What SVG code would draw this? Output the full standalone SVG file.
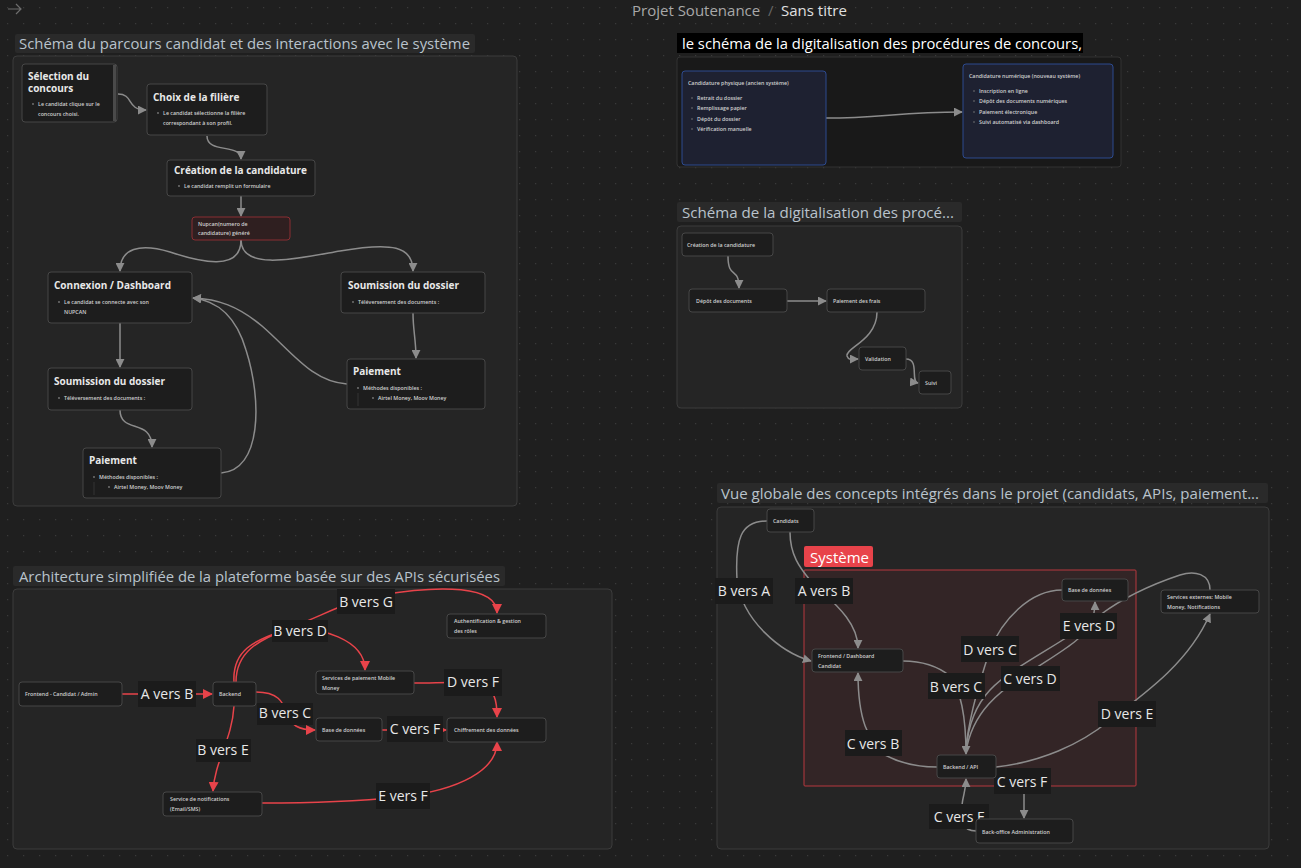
<svg xmlns="http://www.w3.org/2000/svg" width="1301" height="868" viewBox="0 0 1301 868">
<defs>
<pattern id="dots" x="0" y="0" width="16" height="16" patternUnits="userSpaceOnUse">
<rect x="7" y="7" width="1.2" height="1.2" fill="#3a3a3a"/>
</pattern>
<marker id="ag" viewBox="0 0 10 10" refX="9" refY="5" markerWidth="9" markerHeight="9" markerUnits="userSpaceOnUse" orient="auto">
<path d="M0,0 L10,5 L0,10 z" fill="#8c8c8c"/>
</marker>
<marker id="ar" viewBox="0 0 10 10" refX="9" refY="5" markerWidth="10" markerHeight="10" markerUnits="userSpaceOnUse" orient="auto">
<path d="M0,0 L10,5 L0,10 z" fill="#e8434a"/>
</marker>
<style>
text{font-family:"Open Sans","Noto Sans","Liberation Sans",sans-serif}
.frame{fill:#252525;stroke:#3c3c3c;stroke-width:1}
.frameDark{fill:#191919;stroke:#333;stroke-width:1}
.ftitle-bg{fill:#2a2a2a}
.ftitle{fill:#b9c3cc;font-size:15px}
.node{fill:#1d1d1d;stroke:#474747;stroke-width:1}
.nodeB{fill:#1e2131;stroke:#2c4a8f;stroke-width:1}
.ntitle{fill:#e8e8e8;font-size:10px;font-weight:700}
.nsmall{fill:#d0d0d0;font-size:5.3px;font-weight:600}
.bul{fill:#7a7a7a}
.eg{fill:none;stroke:#8c8c8c;stroke-width:1.5}
.er{fill:none;stroke:#e8434a;stroke-width:1.5}
.lbg{fill:#1b1b1b}
.ltx{fill:#e8e8e8;font-size:14px;text-anchor:middle}
</style>
</defs>
<rect width="1301" height="868" fill="#1f1f1f"/>
<rect width="1301" height="868" fill="url(#dots)"/>

<g id="header">
<path d="M8,9 L21,9 M16,4 L21,9 L16,14" fill="none" stroke="#6e6e6e" stroke-width="1.2"/>
<text x="632" y="16" fill="#a8a8a8" font-size="15">Projet Soutenance</text>
<text x="768" y="16" fill="#666" font-size="15">/</text>
<text x="781" y="16" fill="#e0e0e0" font-size="15">Sans titre</text>
</g>

<!-- Frames -->
<g id="frame1">
<rect class="ftitle-bg" x="15" y="34" width="460" height="19" rx="2"/>
<text class="ftitle" x="19" y="49" textLength="451" lengthAdjust="spacingAndGlyphs">Schéma du parcours candidat et des interactions avec le système</text>
<rect class="frame" x="13" y="56" width="504" height="450" rx="4"/>
</g>
<g id="frame2">
<rect x="677" y="33" width="406" height="20" fill="#000"/>
<text x="682" y="49" fill="#fff" font-size="15" textLength="400" lengthAdjust="spacingAndGlyphs">le schéma de la digitalisation des procédures de concours,</text>
<rect class="frameDark" x="677" y="57" width="444" height="110" rx="3"/>
</g>
<g id="frame3">
<rect class="ftitle-bg" x="677" y="202" width="285" height="20" rx="2"/>
<text class="ftitle" x="682" y="218" textLength="272" lengthAdjust="spacingAndGlyphs">Schéma de la digitalisation des procé...</text>
<rect class="frame" x="677" y="226" width="285" height="182" rx="4"/>
</g>
<g id="frame4">
<rect class="ftitle-bg" x="13" y="566" width="492" height="20" rx="2"/>
<text class="ftitle" x="19" y="582" textLength="481" lengthAdjust="spacingAndGlyphs">Architecture simplifiée de la plateforme basée sur des APIs sécurisées</text>
<rect class="frame" x="13" y="589" width="599" height="260" rx="4"/>
</g>
<g id="frame5">
<rect class="ftitle-bg" x="717" y="483" width="551" height="20" rx="2"/>
<text class="ftitle" x="721" y="499" textLength="538" lengthAdjust="spacingAndGlyphs">Vue globale des concepts intégrés dans le projet (candidats, APIs, paiement...</text>
<rect class="frame" x="717" y="507" width="552" height="342" rx="4"/>
</g>
<g id="systeme">
<rect x="804" y="570" width="332" height="216" fill="#332526" stroke="#b8393f" stroke-width="1" rx="1"/>
<rect x="804" y="546" width="69" height="21" rx="2" fill="#e8434a"/>
<text x="810" y="563" fill="#fff" font-size="15">Système</text>
</g>

<!-- Connectors -->
<g id="connectors">
<!-- frame 1 -->
<path class="eg" d="M118,94 C134,94 126,110 146,110" marker-end="url(#ag)"/>
<path class="eg" d="M207,136 C207,154 241,143 241,159" marker-end="url(#ag)"/>
<path class="eg" d="M241,196 L241,216" marker-end="url(#ag)"/>
<path class="eg" d="M241,240 C241,272 200,262 170,252 C140,243 120,248 120,271" marker-end="url(#ag)"/>
<path class="eg" d="M241,240 C241,272 300,258 340,251 C392,242 413,246 413,271" marker-end="url(#ag)"/>
<path class="eg" d="M120,323 L120,367" marker-end="url(#ag)"/>
<path class="eg" d="M120,410 C120,434 152,418 152,447" marker-end="url(#ag)"/>
<path class="eg" d="M413,313 C413,330 416,340 416,358" marker-end="url(#ag)"/>
<path class="eg" d="M221,473 C262,470 262,400 246,350 C236,316 218,301 193,298" marker-end="url(#ag)"/>
<path class="eg" d="M347,384 C312,382 292,352 262,326 C238,306 218,299 193,298" marker-end="url(#ag)"/>
<!-- frame 2 -->
<path class="eg" d="M826,118 C880,118 900,112 962,112" marker-end="url(#ag)"/>
<!-- frame 3 -->
<path class="eg" d="M728,256 C728,280 739,266 739,288" marker-end="url(#ag)"/>
<path class="eg" d="M787,301 L826,301" marker-end="url(#ag)"/>
<path class="eg" d="M877,312 C877,340 845,348 847,356 C849,361 852,359 858,359" marker-end="url(#ag)"/>
<path class="eg" d="M906,359 C920,359 910,382 918,383" marker-end="url(#ag)"/>
<!-- frame 4 (red) -->
<path class="er" d="M122,694 L212,694" marker-end="url(#ar)"/>
<path class="er" d="M234,682 C232,650 255,640 285,630 C320,625 365,640 365,670" marker-end="url(#ar)"/>
<path class="er" d="M236,682 C236,652 258,640 290,628 C330,612 350,600 380,595 C440,585 497,585 497,613" marker-end="url(#ar)"/>
<path class="er" d="M256,692 C278,692 283,702 286,712 C290,726 300,730 315,730" marker-end="url(#ar)"/>
<path class="er" d="M234,706 C232,740 215,760 213,791" marker-end="url(#ar)"/>
<path class="er" d="M414,683 C440,683 460,681 480,684 C495,690 497,700 497,717" marker-end="url(#ar)"/>
<path class="er" d="M382,730 L446,730" marker-end="url(#ar)"/>
<path class="er" d="M262,803 C320,803 360,801 400,797 C460,790 497,770 497,742" marker-end="url(#ar)"/>
<!-- frame 5 (gray) -->
<path class="eg" d="M767,521 C740,521 735,540 737,580 C742,620 780,652 811,661" marker-end="url(#ag)"/>
<path class="eg" d="M790,532 C790,555 800,568 810,580 C830,600 858,620 858,648" marker-end="url(#ag)"/>
<path class="eg" d="M903,661 C925,661 940,668 950,676 C962,692 966,720 966,754" marker-end="url(#ag)"/>
<path class="eg" d="M1062,590 C1030,590 1002,620 990,650 C980,680 968,720 966,750"/>
<path class="eg" d="M1210,590 C1210,574 1195,570 1180,575 C1150,585 1120,600 1100,615 C1060,645 1010,668 990,690 C975,706 968,726 966,750"/>
<path class="eg" d="M966,752 C972,712 1000,690 1030,672 C1060,652 1082,640 1090,625 C1094,617 1095,612 1095,602" marker-end="url(#ag)"/>
<path class="eg" d="M937,767 C915,767 898,762 885,755 C868,740 858,720 858,673" marker-end="url(#ag)"/>
<path class="eg" d="M996,767 C1040,762 1080,745 1110,720 C1150,690 1190,660 1210,614" marker-end="url(#ag)"/>
<path class="eg" d="M1024,778 L1024,818" marker-end="url(#ag)"/>
<path class="eg" d="M976,831 C962,831 960,820 962,805 C963,795 966,790 966,779" marker-end="url(#ag)"/>
<!-- labels frame 4 -->
<rect class="lbg" x="138" y="681" width="58" height="26"/><text class="ltx" x="167" y="699">A vers B</text>
<rect class="lbg" x="272" y="620" width="56" height="22"/><text class="ltx" x="300" y="636">B vers D</text>
<rect class="lbg" x="337" y="589" width="58" height="25"/><text class="ltx" x="366" y="607">B vers G</text>
<rect class="lbg" x="257" y="703" width="56" height="22"/><text class="ltx" x="285" y="718">B vers C</text>
<rect class="lbg" x="196" y="739" width="55" height="23"/><text class="ltx" x="223" y="755">B vers E</text>
<rect class="lbg" x="444" y="669" width="58" height="27"/><text class="ltx" x="473" y="687">D vers F</text>
<rect class="lbg" x="387" y="716" width="56" height="26"/><text class="ltx" x="415" y="734">C vers F</text>
<rect class="lbg" x="376" y="783" width="54" height="26"/><text class="ltx" x="403" y="801">E vers F</text>
<!-- labels frame 5 -->
<rect class="lbg" x="715" y="578" width="58" height="26"/><text class="ltx" x="744" y="596">B vers A</text>
<rect class="lbg" x="795" y="578" width="58" height="26"/><text class="ltx" x="824" y="596">A vers B</text>
<rect class="lbg" x="928" y="673" width="57" height="26"/><text class="ltx" x="956" y="692">B vers C</text>
<rect class="lbg" x="961" y="636" width="58" height="26"/><text class="ltx" x="990" y="655">D vers C</text>
<rect class="lbg" x="1001" y="666" width="59" height="25"/><text class="ltx" x="1030" y="684">C vers D</text>
<rect class="lbg" x="1060" y="613" width="57" height="26"/><text class="ltx" x="1089" y="631">E vers D</text>
<rect class="lbg" x="845" y="730" width="57" height="26"/><text class="ltx" x="873" y="749">C vers B</text>
<rect class="lbg" x="1098" y="701" width="58" height="26"/><text class="ltx" x="1127" y="719">D vers E</text>
<rect class="lbg" x="994" y="768" width="57" height="26"/><text class="ltx" x="1022" y="787">C vers F</text>
<rect class="lbg" x="929" y="804" width="60" height="25"/><text class="ltx" x="959" y="822">C vers F</text>
</g>

<!-- Frame 1 nodes -->
<g id="n-selection">
<rect class="node" x="22" y="64" width="95" height="58" rx="3"/>
<line x1="114.5" y1="65" x2="114.5" y2="121" stroke="#4a4a4a" stroke-width="3"/>
<text class="ntitle" x="28" y="80">Sélection du</text>
<text class="ntitle" x="28" y="92">concours</text>
<circle class="bul" cx="33" cy="104" r="0.9"/>
<text class="nsmall" x="38" y="106">Le candidat clique sur le</text>
<text class="nsmall" x="38" y="116">concours choisi.</text>
</g>
<g id="n-choix">
<rect class="node" x="147" y="84" width="120" height="51" rx="3"/>
<text class="ntitle" x="153" y="101">Choix de la filière</text>
<circle class="bul" cx="158" cy="113" r="0.9"/>
<text class="nsmall" x="163" y="115">Le candidat sélectionne la filière</text>
<text class="nsmall" x="163" y="125">correspondant à son profil.</text>
</g>
<g id="n-creation">
<rect class="node" x="167" y="160" width="148" height="36" rx="3"/>
<text class="ntitle" x="174" y="174">Création de la candidature</text>
<circle class="bul" cx="179" cy="186" r="0.9"/>
<text class="nsmall" x="184" y="188">Le candidat remplit un formulaire</text>
</g>
<g id="n-nupcan">
<rect x="192" y="217" width="98" height="23" rx="3" fill="#2f1f20" stroke="#8a2e33"/>
<text class="nsmall" x="198" y="226">Nupcan(numero de</text>
<text class="nsmall" x="198" y="235">candidature) généré</text>
</g>
<g id="n-connexion">
<rect class="node" x="48" y="272" width="144" height="51" rx="3"/>
<text class="ntitle" x="54" y="289">Connexion / Dashboard</text>
<circle class="bul" cx="59" cy="302" r="0.9"/>
<text class="nsmall" x="64" y="304">Le candidat se connecte avec son</text>
<text class="nsmall" x="64" y="314">NUPCAN</text>
</g>
<g id="n-soumission-r">
<rect class="node" x="341" y="272" width="144" height="41" rx="3"/>
<text class="ntitle" x="348" y="289">Soumission du dossier</text>
<circle class="bul" cx="353" cy="302" r="0.9"/>
<text class="nsmall" x="358" y="304">Téléversement des documents :</text>
</g>
<g id="n-soumission-l">
<rect class="node" x="48" y="368" width="144" height="42" rx="3"/>
<text class="ntitle" x="54" y="385">Soumission du dossier</text>
<circle class="bul" cx="59" cy="398" r="0.9"/>
<text class="nsmall" x="64" y="400">Téléversement des documents :</text>
</g>
<g id="n-paiement-l">
<rect class="node" x="83" y="448" width="138" height="50" rx="3"/>
<text class="ntitle" x="89" y="464">Paiement</text>
<circle class="bul" cx="94" cy="477" r="0.9"/>
<text class="nsmall" x="99" y="479">Méthodes disponibles :</text>
<line x1="94" y1="482" x2="94" y2="495" stroke="#3a3a3a" stroke-width="0.8"/>
<circle class="bul" cx="109" cy="487" r="0.9"/>
<text class="nsmall" x="114" y="489">Airtel Money, Moov Money</text>
</g>
<g id="n-paiement-r">
<rect class="node" x="347" y="359" width="138" height="50" rx="3"/>
<text class="ntitle" x="353" y="375">Paiement</text>
<circle class="bul" cx="358" cy="388" r="0.9"/>
<text class="nsmall" x="363" y="390">Méthodes disponibles :</text>
<line x1="358" y1="393" x2="358" y2="406" stroke="#3a3a3a" stroke-width="0.8"/>
<circle class="bul" cx="373" cy="398" r="0.9"/>
<text class="nsmall" x="378" y="400">Airtel Money, Moov Money</text>
</g>

<!-- Frame 2 nodes -->
<g id="n-physique">
<rect class="nodeB" x="682" y="71" width="144" height="94" rx="3"/>
<text class="nsmall" x="688" y="85" font-weight="400">Candidature physique (ancien système)</text>
<circle class="bul" cx="692" cy="98" r="0.8"/><text class="nsmall" x="697" y="100">Retrait du dossier</text>
<circle class="bul" cx="692" cy="108" r="0.8"/><text class="nsmall" x="697" y="110">Remplissage papier</text>
<circle class="bul" cx="692" cy="119" r="0.8"/><text class="nsmall" x="697" y="121">Dépôt du dossier</text>
<circle class="bul" cx="692" cy="129" r="0.8"/><text class="nsmall" x="697" y="131">Vérification manuelle</text>
</g>
<g id="n-numerique">
<rect class="nodeB" x="963" y="64" width="150" height="94" rx="3"/>
<text class="nsmall" x="969" y="78" font-weight="400">Candidature numérique (nouveau système)</text>
<circle class="bul" cx="974" cy="91" r="0.8"/><text class="nsmall" x="979" y="93">Inscription en ligne</text>
<circle class="bul" cx="974" cy="101" r="0.8"/><text class="nsmall" x="979" y="103">Dépôt des documents numériques</text>
<circle class="bul" cx="974" cy="112" r="0.8"/><text class="nsmall" x="979" y="114">Paiement électronique</text>
<circle class="bul" cx="974" cy="122" r="0.8"/><text class="nsmall" x="979" y="124">Suivi automatisé via dashboard</text>
</g>

<!-- Frame 3 nodes -->
<g id="n-f3-creation"><rect class="node" x="682" y="233" width="91" height="23" rx="3"/><text class="nsmall" x="687" y="247">Création de la candidature</text></g>
<g id="n-f3-depot"><rect class="node" x="689" y="289" width="98" height="23" rx="3"/><text class="nsmall" x="696" y="303">Dépôt des documents</text></g>
<g id="n-f3-paiement"><rect class="node" x="827" y="289" width="98" height="23" rx="3"/><text class="nsmall" x="833" y="303">Paiement des frais</text></g>
<g id="n-f3-validation"><rect class="node" x="859" y="347" width="47" height="23" rx="3"/><text class="nsmall" x="865" y="361">Validation</text></g>
<g id="n-f3-suivi"><rect class="node" x="919" y="371" width="32" height="23" rx="3"/><text class="nsmall" x="925" y="385">Suivi</text></g>

<!-- Frame 4 nodes -->
<g id="n-f4-frontend"><rect class="node" x="19" y="682" width="103" height="24" rx="3"/><text class="nsmall" x="25" y="696">Frontend - Candidat / Admin</text></g>
<g id="n-f4-backend"><rect class="node" x="213" y="682" width="43" height="24" rx="3"/><text class="nsmall" x="219" y="696">Backend</text></g>
<g id="n-f4-paiement"><rect class="node" x="316" y="671" width="98" height="23" rx="3"/><text class="nsmall" x="322" y="680">Services de paiement Mobile</text><text class="nsmall" x="322" y="690">Money</text></g>
<g id="n-f4-auth"><rect class="node" x="447" y="614" width="99" height="24" rx="3"/><text class="nsmall" x="454" y="623">Authentification &amp; gestion</text><text class="nsmall" x="454" y="633">des rôles</text></g>
<g id="n-f4-bdd"><rect class="node" x="316" y="718" width="66" height="23" rx="3"/><text class="nsmall" x="322" y="732">Base de données</text></g>
<g id="n-f4-chiffrement"><rect class="node" x="447" y="718" width="99" height="24" rx="3"/><text class="nsmall" x="454" y="732">Chiffrement des données</text></g>
<g id="n-f4-notif"><rect class="node" x="163" y="792" width="99" height="24" rx="3"/><text class="nsmall" x="170" y="801">Service de notifications</text><text class="nsmall" x="170" y="811">(Email/SMS)</text></g>

<!-- Frame 5 nodes -->
<g id="n-f5-candidats"><rect class="node" x="767" y="509" width="47" height="23" rx="3"/><text class="nsmall" x="773" y="523">Candidats</text></g>
<g id="n-f5-frontend"><rect class="node" x="812" y="649" width="91" height="23" rx="3"/><text class="nsmall" x="818" y="658">Frontend / Dashboard</text><text class="nsmall" x="818" y="668">Candidat</text></g>
<g id="n-f5-backend"><rect class="node" x="937" y="755" width="59" height="23" rx="3"/><text class="nsmall" x="943" y="769">Backend / API</text></g>
<g id="n-f5-bdd"><rect class="node" x="1062" y="579" width="66" height="22" rx="3"/><text class="nsmall" x="1068" y="592">Base de données</text></g>
<g id="n-f5-services"><rect class="node" x="1161" y="590" width="98" height="23" rx="3"/><text class="nsmall" x="1167" y="599">Services externes: Mobile</text><text class="nsmall" x="1167" y="609">Money, Notifications</text></g>
<g id="n-f5-backoffice"><rect class="node" x="976" y="819" width="97" height="24" rx="3"/><text class="nsmall" x="982" y="834">Back-office Administration</text></g>
</svg>
